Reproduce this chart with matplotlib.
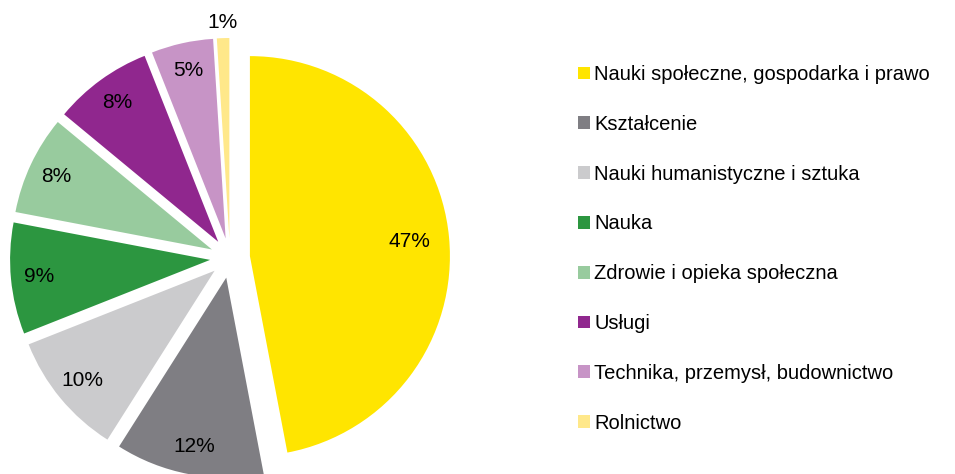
import matplotlib.pyplot as plt

plt.rcParams['font.family'] = ['Liberation Sans', 'DejaVu Sans']

# data
categories = ['Nauki społeczne, gospodarka i prawo', 'Kształcenie',
              'Nauki humanistyczne i sztuka', 'Nauka',
              'Zdrowie i opieka społeczna', 'Usługi',
              'Technika, przemysł, budownictwo', 'Rolnictwo']
shares = [47, 12, 10, 9, 8, 8, 5, 1]
colors = ['#FFE500', '#7F7E83', '#CBCBCD', '#2C9640',
          '#98CB9E', '#90278E', '#C794C6', '#FFE88A']

expl = 0.1
pct = 0.86

fig = plt.figure(figsize=(9.55, 4.74), dpi=100)
# axes over left part, 1 data unit = 200 px, pie centre at (230, 258) from top
ax = fig.add_axes([0, 0, 480 / 955, 1])
wedges, texts, autotexts = ax.pie(
    shares, colors=colors, startangle=90, counterclock=False,
    explode=[expl] * len(shares), autopct='%.0f%%', pctdistance=pct,
    wedgeprops=dict(linewidth=0), textprops=dict(fontsize=15, color='black'))

# small slice label outside, big slice label a bit further in
x, y = autotexts[-1].get_position()
f = (expl + 1.08) / (expl + pct)
autotexts[-1].set_position((x * f, y * f))
x, y = autotexts[0].get_position()
f = (expl + 0.8) / (expl + pct)
autotexts[0].set_position((x * f, y * f))

ax.set_xlim(-230 / 200, 250 / 200)
ax.set_ylim(-216 / 200, 258 / 200)
ax.set_aspect('auto')

leg = fig.legend(wedges, categories, loc='upper left',
                 bbox_to_anchor=(578 / 955, 1 - 65 / 474), frameon=False,
                 fontsize=14.5, handlelength=0.6, handleheight=0.6,
                 handletextpad=0.2, labelspacing=1.53, borderpad=0,
                 borderaxespad=0)

fig.savefig('out.png', dpi=100)
